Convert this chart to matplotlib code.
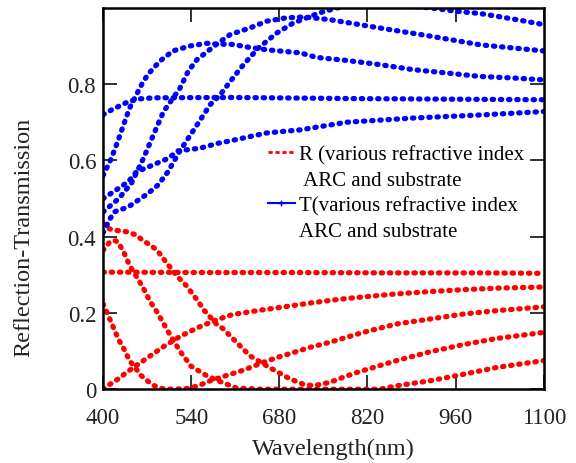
import matplotlib.pyplot as plt
from matplotlib.lines import Line2D

plt.rcParams['font.family'] = ['Liberation Serif', 'DejaVu Serif']

# reflection curves (wavelength nm, value)
r_flat_x = [400, 550, 700, 850, 1000, 1100]
r_flat_y = [0.307, 0.306, 0.306, 0.305, 0.305, 0.304]

r_a_x = [400, 411, 424, 438, 471, 498, 524, 551, 580, 606, 649, 692, 729, 776,
         813, 866, 919, 972, 1025, 1100]
r_a_y = [0.0, 0.013, 0.027, 0.045, 0.083, 0.114, 0.14, 0.162, 0.182, 0.196, 0.207,
         0.217, 0.226, 0.236, 0.242, 0.25, 0.256, 0.261, 0.265, 0.268]

r_b_x = [400, 413, 424, 434, 442, 461, 477, 490, 510, 535, 551, 570, 600, 623,
         649, 676, 702, 729, 760, 813, 866, 919, 972, 1025, 1100]
r_b_y = [0.224, 0.175, 0.132, 0.103, 0.075, 0.035, 0.013, 0.002, 0.0, 0.002, 0.009,
         0.022, 0.038, 0.05, 0.067, 0.083, 0.096, 0.11, 0.123, 0.149, 0.171, 0.184,
         0.197, 0.206, 0.216]

r_c_x = [400, 410, 418, 424, 434, 442, 463, 474, 485, 503, 522, 540, 565, 586,
         612, 650, 700, 760, 840, 866, 919, 972, 1025, 1100]
r_c_y = [0.364, 0.385, 0.39, 0.386, 0.355, 0.325, 0.268, 0.232, 0.204, 0.152, 0.10,
         0.06, 0.035, 0.02, 0.003, 0.0, 0.0, 0.0, 0.0, 0.009, 0.022, 0.039, 0.057,
         0.075]

r_d_x = [400, 408, 416, 429, 440, 453, 463, 471, 485, 500, 519, 532, 548, 561, 580,
         591, 612, 633, 654, 676, 697, 718, 734, 760, 781, 803, 866, 919, 972, 1025,
         1100]
r_d_y = [0.435, 0.422, 0.417, 0.415, 0.412, 0.404, 0.39, 0.382, 0.366, 0.333, 0.294,
         0.272, 0.237, 0.206, 0.171, 0.158, 0.123, 0.088, 0.067, 0.046, 0.027, 0.013,
         0.009, 0.018, 0.031, 0.044, 0.075, 0.098, 0.117, 0.133, 0.149]

# transmission curves
t_flat_x = [400, 413, 424, 440, 456, 480, 600, 800, 1000, 1100]
t_flat_y = [0.72, 0.732, 0.741, 0.754, 0.761, 0.764, 0.765, 0.762, 0.76, 0.759]

t_b_x = [400, 413, 424, 434, 442, 461, 471, 490, 511, 538, 565, 580, 607, 633, 660,
         686, 713, 739, 787, 840, 892, 946, 999, 1052, 1100]
t_b_y = [0.56, 0.605, 0.653, 0.70, 0.737, 0.798, 0.825, 0.86, 0.887, 0.90, 0.907,
         0.905, 0.904, 0.896, 0.89, 0.886, 0.882, 0.87, 0.862, 0.851, 0.838, 0.829,
         0.82, 0.816, 0.811]

t_d_x = [400, 425, 445, 464, 482, 496, 522, 535, 549, 580, 602, 633, 660, 692, 720,
         760, 840, 919, 999, 1100]
t_d_y = [0.465, 0.50, 0.54, 0.605, 0.675, 0.728, 0.789, 0.833, 0.864, 0.904, 0.93,
         0.947, 0.965, 0.974, 0.976, 0.969, 0.947, 0.926, 0.903, 0.887]

t_c_x = [400, 411, 418, 440, 456, 471, 487, 503, 522, 538, 554, 570, 586, 602, 623,
         647, 676, 702, 744, 781, 820, 850, 892, 919, 961, 999, 1025, 1057, 1100]
t_c_y = [0.41, 0.447, 0.465, 0.478, 0.496, 0.513, 0.535, 0.57, 0.625, 0.665, 0.705,
         0.746, 0.772, 0.807, 0.851, 0.895, 0.934, 0.96, 0.987, 1.004, 1.02, 1.02,
         1.004, 1.0, 0.991, 0.985, 0.978, 0.969, 0.956]

t_a_x = [400, 416, 424, 440, 453, 475, 503, 519, 554, 583, 607, 660, 713, 787, 892,
         999, 1100]
t_a_y = [0.50, 0.517, 0.526, 0.544, 0.57, 0.585, 0.605, 0.625, 0.632, 0.645, 0.653,
         0.672, 0.68, 0.70, 0.711, 0.719, 0.728]

x_ticks = [400, 540, 680, 820, 960, 1100]
y_ticks = [0, 0.2, 0.4, 0.6, 0.8]
y_tick_labels = ['0', '0.2', '0.4', '0.6', '0.8']

fig = plt.figure(figsize=(5.76, 4.64), dpi=100)
ax = fig.add_axes([0.179, 0.159, 0.765, 0.822])

dots = dict(lw=3.8, linestyle=(0, (0.25, 1.3)), dash_capstyle='round')

for xs, ys in [(r_flat_x, r_flat_y), (r_a_x, r_a_y), (r_b_x, r_b_y),
               (r_c_x, r_c_y), (r_d_x, r_d_y)]:
    ax.plot(xs, ys, color='#ff0000', **dots)

for xs, ys in [(t_flat_x, t_flat_y), (t_b_x, t_b_y), (t_d_x, t_d_y),
               (t_c_x, t_c_y), (t_a_x, t_a_y)]:
    ax.plot(xs, ys, color='#0000ff', **dots)

ax.set_xlim(400, 1100)
ax.set_ylim(0, 1.0)
ax.set_xticks(x_ticks)
ax.set_yticks(y_ticks)
ax.set_yticklabels(y_tick_labels)
ax.tick_params(direction='in', length=10, width=1.3, labelsize=16.5,
               top=True, right=True, colors='#222222')
ax.tick_params(axis='x', pad=13)
ax.tick_params(axis='y', pad=5)
for sp in ax.spines.values():
    sp.set_linewidth(1.8)

ax.set_xlabel('Wavelength(nm)', fontsize=17.5, color='#222222')
ax.set_ylabel('Reflection-Transmission', fontsize=17.5, color='#222222')
ax.xaxis.set_label_coords(0.522, -0.128)
ax.yaxis.set_label_coords(-0.157, 0.40)

# legend: second line of each entry gets an empty handle
blank = Line2D([], [], linestyle='none')
handles = [Line2D([], [], color='#ff0000', lw=2, linestyle=(0, (1.5, 1))),
           blank,
           Line2D([], [], color='#0000ff', lw=1.5, marker='+', markersize=5),
           blank]
labels = ['R (various refractive index', ' ARC and substrate',
          'T(various refractive index', 'ARC and substrate']
ax.legend(handles, labels, loc='upper left', bbox_to_anchor=(0.355, 0.662),
          frameon=False, fontsize=15, handlelength=1.3, handletextpad=0.2,
          labelspacing=0.28, borderaxespad=0)

fig.savefig('out.png', dpi=100)
